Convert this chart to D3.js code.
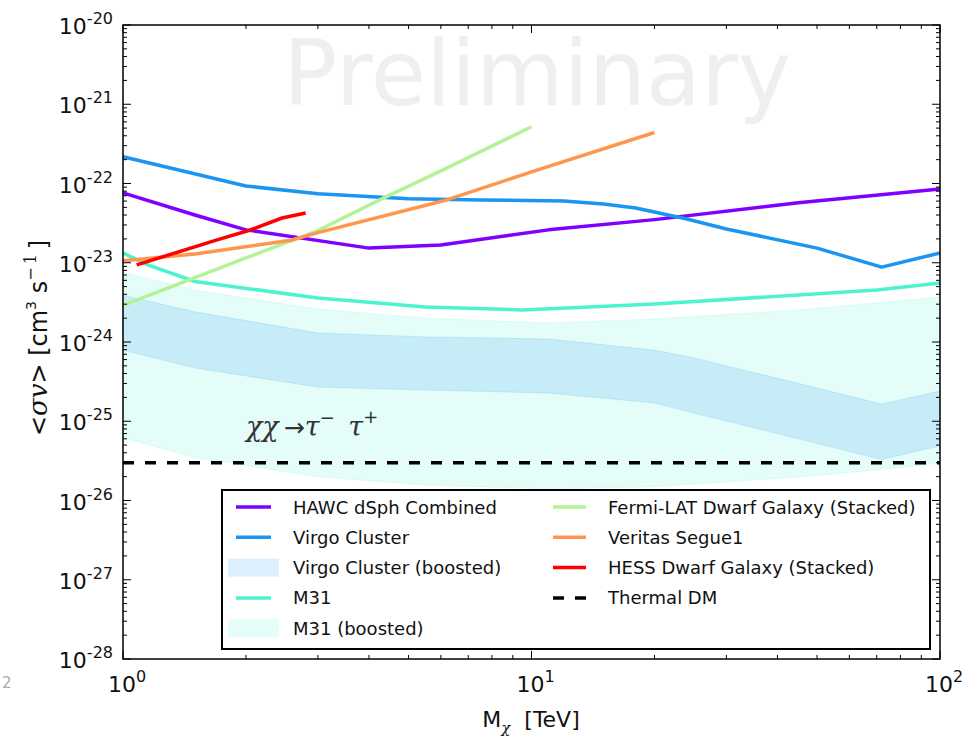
<!DOCTYPE html>
<html><head><meta charset="utf-8">
<script src="https://cdn.jsdelivr.net/npm/d3@7/dist/d3.min.js"></script>
<style>body{margin:0;background:#fff}svg{display:block}</style>
</head><body>
<svg id="chart" width="976" height="738"></svg>
<script>
// Dark-matter annihilation limits, chi chi -> tau- tau+, <sigma v> vs mass (TeV)

const hawcMass  = [1, 1.5, 2, 4, 6, 11, 20, 45, 100];
const hawcSigv  = [7.6e-23, 4.0e-23, 2.6e-23, 1.53e-23, 1.67e-23, 2.6e-23, 3.5e-23, 5.7e-23, 8.5e-23];

const virgoMass = [1, 2, 3, 5, 7.5, 12, 15, 18, 24, 30, 50, 72, 100];
const virgoSigv = [2.18e-22, 9.3e-23, 7.4e-23, 6.4e-23, 6.2e-23, 6.0e-23, 5.5e-23, 4.9e-23, 3.56e-23, 2.67e-23, 1.53e-23, 8.8e-24, 1.33e-23];

const virgoBandMass  = [1, 1.5, 3, 5.5, 11, 20, 25, 72, 100];
const virgoBandUpper = [3.9e-24, 2.4e-24, 1.3e-24, 1.16e-24, 1.09e-24, 7.9e-25, 6.3e-25, 1.65e-25, 2.4e-25];
const virgoBandLower = [7.9e-25, 4.7e-25, 2.7e-25, 2.48e-25, 2.27e-25, 1.7e-25, 1.27e-25, 3.3e-26, 4.9e-26];

const m31Mass = [1, 1.15, 1.5, 3, 5.5, 9.5, 20, 45, 70, 100];
const m31Sigv = [1.33e-23, 9.4e-24, 5.8e-24, 3.6e-24, 2.77e-24, 2.54e-24, 3.02e-24, 3.92e-24, 4.53e-24, 5.55e-24];

const m31BandMass  = [1, 1.5, 3, 5.5, 11, 20, 45, 70, 100];
const m31BandUpper = [7.6e-24, 4.5e-24, 2.6e-24, 2.0e-24, 1.74e-24, 1.95e-24, 2.54e-24, 3.1e-24, 3.7e-24];
const m31BandLower = [6.2e-26, 3.5e-26, 2.0e-26, 1.57e-26, 1.4e-26, 1.49e-26, 1.98e-26, 2.43e-26, 2.97e-26];

const fermiMass = [1, 1.5, 2, 3, 4.3, 6, 10];
const fermiSigv = [2.9e-24, 6.5e-24, 1.15e-23, 2.55e-23, 6.4e-23, 1.44e-22, 5.2e-22];

const veritasMass = [1, 1.5, 2.6, 3, 6.2, 10, 20];
const veritasSigv = [1.06e-23, 1.29e-23, 1.94e-23, 2.4e-23, 6.2e-23, 1.4e-22, 4.4e-22];

const hessMass = [1.08, 1.7, 2.05, 2.45, 2.8];
const hessSigv = [9.4e-24, 1.94e-23, 2.59e-23, 3.67e-23, 4.25e-23];

const thermalMass = [1, 100];
const thermalSigv = [3e-26, 3e-26];

const yTickExponents = [-20, -21, -22, -23, -24, -25, -26, -27, -28];
const xTickExponents = [0, 1, 2];

const legendLeft = [
  {label: "HAWC dSph Combined",        kind: "line",  color: "#7f00ff"},
  {label: "Virgo Cluster",             kind: "line",  color: "#1a96f2"},
  {label: "Virgo Cluster (boosted)",   kind: "patch", color: "#1a96f2"},
  {label: "M31",                       kind: "line",  color: "#4df2ce"},
  {label: "M31 (boosted)",             kind: "patch", color: "#4df2ce"}
];
const legendRight = [
  {label: "Fermi-LAT Dwarf Galaxy (Stacked)", kind: "line", color: "#b3f296"},
  {label: "Veritas Segue1",                   kind: "line", color: "#ff964f"},
  {label: "HESS Dwarf Galaxy (Stacked)",      kind: "line", color: "#ff0000"},
  {label: "Thermal DM",                       kind: "dash", color: "#000000"}
];

const svg = d3.select("#chart");
const plot = {left: 123, right: 940, top: 25, bottom: 659};
const x = d3.scaleLog().domain([1, 100]).range([plot.left, plot.right]);
const y = d3.scaleLog().domain([1e-28, 1e-20]).range([plot.bottom, plot.top]);

const FONT = "'DejaVu Sans', sans-serif";
const MATH = "'DejaVu Serif', 'Liberation Serif', serif";
const BAND_ALPHA = 0.15;
const LW = 3.5;

svg.append("rect").attr("width", 976).attr("height", 738).attr("fill", "#fff");

// watermark
svg.append("text")
  .attr("x", 283).attr("y", 105)
  .attr("font-family", FONT).attr("font-size", 90)
  .attr("fill", "#efefef")
  .text("Preliminary");

const zip = (ms, vs) => ms.map((m, i) => [m, vs[i]]);
const line = d3.line().x(d => x(d[0])).y(d => y(d[1]));
const area = d3.area().x(d => x(d.m)).y0(d => y(d.lo)).y1(d => y(d.hi));

function band(ms, lo, hi, color) {
  const rows = ms.map((m, i) => ({m, lo: lo[i], hi: hi[i]}));
  svg.append("path").datum(rows).attr("d", area)
    .attr("fill", color).attr("fill-opacity", BAND_ALPHA)
    .attr("stroke", color).attr("stroke-opacity", BAND_ALPHA).attr("stroke-width", 1);
}
band(m31BandMass, m31BandLower, m31BandUpper, "#4df2ce");
band(virgoBandMass, virgoBandLower, virgoBandUpper, "#1a96f2");

function curve(ms, vs, color, dash) {
  const p = svg.append("path").datum(zip(ms, vs)).attr("d", line)
    .attr("fill", "none").attr("stroke", color).attr("stroke-width", LW)
    .attr("stroke-linejoin", "round");
  if (dash) p.attr("stroke-dasharray", dash);
}
curve(hawcMass, hawcSigv, "#7f00ff");
curve(virgoMass, virgoSigv, "#1a96f2");
curve(m31Mass, m31Sigv, "#4df2ce");
curve(fermiMass, fermiSigv, "#b3f296");
curve(veritasMass, veritasSigv, "#ff964f");
curve(hessMass, hessSigv, "#ff0000");
curve(thermalMass, thermalSigv, "#000000", "11,11");

// channel annotation
const ann = svg.append("text").attr("x", 246).attr("y", 436)
  .attr("font-family", MATH).attr("font-size", 27).attr("fill", "#333");
ann.append("tspan").attr("font-style", "italic").text("χχ");
ann.append("tspan").attr("font-family", FONT).attr("font-size", 25).text("\u2009→");
ann.append("tspan").attr("font-style", "italic").text("τ");
ann.append("tspan").attr("font-family", FONT).attr("font-size", 18).attr("dy", -12).text("−");
ann.append("tspan").attr("dy", 12).attr("font-style", "italic").text("\u2002τ");
ann.append("tspan").attr("font-family", FONT).attr("font-size", 18).attr("dy", -13).text("+");

// frame
svg.append("rect")
  .attr("x", plot.left).attr("y", plot.top)
  .attr("width", plot.right - plot.left).attr("height", plot.bottom - plot.top)
  .attr("fill", "none").attr("stroke", "#000").attr("stroke-width", 1.5);

// ticks (inward, on all four sides)
const ticks = svg.append("g").attr("stroke", "#000").attr("stroke-width", 1);
function minorsOf(exps) {
  const out = [];
  const lo = Math.min(...exps), hi = Math.max(...exps);
  for (let e = lo; e < hi; e++) for (let k = 2; k <= 9; k++) out.push(k * Math.pow(10, e));
  return out;
}
const yMajor = yTickExponents.map(e => Math.pow(10, e));
const xMajor = xTickExponents.map(e => Math.pow(10, e));
yMajor.forEach(v => {
  const yy = y(v);
  ticks.append("line").attr("x1", plot.left).attr("x2", plot.left + 8).attr("y1", yy).attr("y2", yy);
  ticks.append("line").attr("x1", plot.right).attr("x2", plot.right - 8).attr("y1", yy).attr("y2", yy);
});
minorsOf(yTickExponents).forEach(v => {
  const yy = y(v);
  ticks.append("line").attr("x1", plot.left).attr("x2", plot.left + 4).attr("y1", yy).attr("y2", yy);
  ticks.append("line").attr("x1", plot.right).attr("x2", plot.right - 4).attr("y1", yy).attr("y2", yy);
});
xMajor.forEach(v => {
  const xx = x(v);
  ticks.append("line").attr("x1", xx).attr("x2", xx).attr("y1", plot.bottom).attr("y2", plot.bottom - 8);
  ticks.append("line").attr("x1", xx).attr("x2", xx).attr("y1", plot.top).attr("y2", plot.top + 8);
});
minorsOf(xTickExponents).forEach(v => {
  const xx = x(v);
  ticks.append("line").attr("x1", xx).attr("x2", xx).attr("y1", plot.bottom).attr("y2", plot.bottom - 4);
  ticks.append("line").attr("x1", xx).attr("x2", xx).attr("y1", plot.top).attr("y2", plot.top + 4);
});

// tick labels
function powerLabel(sel, exp) {
  sel.append("tspan").text("10");
  sel.append("tspan").attr("font-size", 16).attr("dy", -10).text(exp < 0 ? "-" + (-exp) : String(exp));
}
yTickExponents.forEach(e => {
  const t = svg.append("text").attr("x", 113).attr("y", y(Math.pow(10, e)) + 9)
    .attr("text-anchor", "end").attr("font-family", FONT).attr("font-size", 22).attr("fill", "#111");
  powerLabel(t, e);
});
xTickExponents.forEach(e => {
  const t = svg.append("text").attr("x", x(Math.pow(10, e)) + 4).attr("y", 692)
    .attr("text-anchor", "middle").attr("font-family", FONT).attr("font-size", 22).attr("fill", "#111");
  powerLabel(t, e);
});

// axis titles
const xt = svg.append("text").attr("x", 531).attr("y", 727)
  .attr("text-anchor", "middle").attr("font-family", FONT).attr("font-size", 22).attr("fill", "#111");
xt.append("tspan").text("M");
xt.append("tspan").attr("font-family", MATH).attr("font-style", "italic").attr("font-size", 15).attr("dy", 6).text("χ");
xt.append("tspan").attr("dy", -6).text("\u00a0\u00a0[TeV]");

const yt = svg.append("text").attr("transform", "translate(47,338) rotate(-90)")
  .attr("text-anchor", "middle").attr("font-family", FONT).attr("font-size", 24).attr("fill", "#111");
yt.append("tspan").text("<");
yt.append("tspan").attr("font-family", MATH).attr("font-style", "italic").attr("font-size", 26).text("σv");
yt.append("tspan").text(">\u00a0[cm");
yt.append("tspan").attr("font-size", 14).attr("dy", -11).text("3");
yt.append("tspan").attr("dy", 11).text("\u00a0s");
yt.append("tspan").attr("font-family", MATH).attr("font-size", 16).attr("dy", -11).text("\u2212\u20091");
yt.append("tspan").attr("dy", 11).text("\u2009]");

// stray margin glyph
svg.append("text").attr("x", 2).attr("y", 688).attr("font-family", FONT).attr("font-size", 15)
  .attr("fill", "#aaa").text("2");

// legend
const lg = svg.append("g");
lg.append("rect").attr("x", 222).attr("y", 490).attr("width", 708).attr("height", 159)
  .attr("fill", "#fff").attr("stroke", "#000").attr("stroke-width", 2);
const rowY = i => 507 + i * 30.3;
function legendColumn(entries, hx0, hx1, tx) {
  entries.forEach((d, i) => {
    const cy = rowY(i);
    if (d.kind === "patch") {
      lg.append("rect").attr("x", hx0 - 8).attr("y", cy - 9).attr("width", hx1 - hx0 + 16).attr("height", 18)
        .attr("fill", d.color).attr("fill-opacity", BAND_ALPHA);
    } else {
      const l = lg.append("line").attr("x1", hx0).attr("x2", hx1).attr("y1", cy).attr("y2", cy)
        .attr("stroke", d.color).attr("stroke-width", LW);
      if (d.kind === "dash") l.attr("stroke-dasharray", "11,11").attr("x2", hx1 + 1);
    }
    lg.append("text").attr("x", tx).attr("y", cy + 6.5)
      .attr("font-family", FONT).attr("font-size", 18).attr("fill", "#111").text(d.label);
  });
}
legendColumn(legendLeft, 236, 271, 293);
legendColumn(legendRight, 553, 586, 608);
</script>
</body></html>
